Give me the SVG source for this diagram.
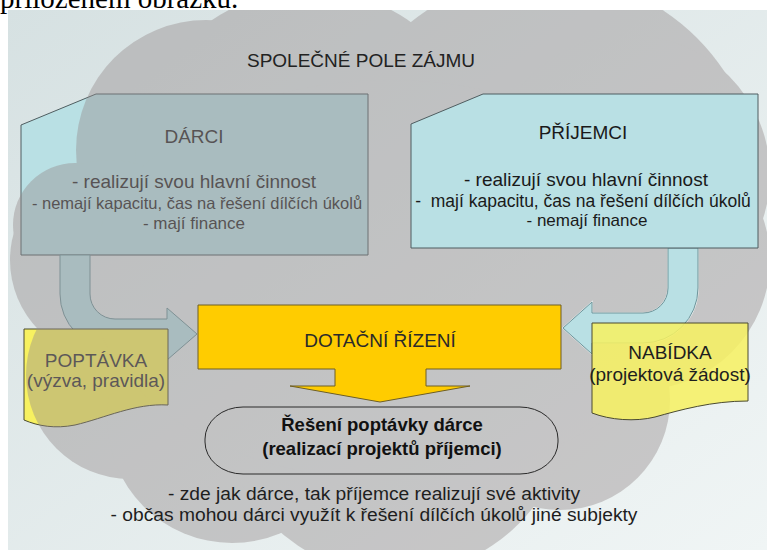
<svg xmlns="http://www.w3.org/2000/svg" width="767" height="550" viewBox="0 0 767 550">
<style>
.t{font-family:"Liberation Sans",Arial,sans-serif;text-anchor:middle}
.boxc{fill:#b9e0e4;stroke:#4f5d60;stroke-width:1}
.doc{fill:#f7f160;stroke:#4a4a30;stroke-width:1}
.arr{fill:#b9e0e4;stroke:#6f959b;stroke-width:1}
</style>
<defs>
<linearGradient id="bg" x1="0" y1="0" x2="1" y2="1">
<stop offset="0" stop-color="#d6e1e2"/>
<stop offset="1" stop-color="#f0f5f5"/>
</linearGradient>
<clipPath id="panel"><rect x="8" y="10" width="759" height="540"/></clipPath>
<mask id="cm" maskUnits="userSpaceOnUse" x="0" y="0" width="767" height="550">
<rect x="0" y="0" width="767" height="550" fill="#fff"/>
<path d="M668,248 H698 V288 A55,55 0 0 1 643,343 H592 V354 L563,328 L592,302 V313 H643 A25,25 0 0 0 668,288 Z" fill="#000" stroke="#000" stroke-width="1.5"/>
</mask>
</defs>
<rect x="0" y="0" width="767" height="550" fill="#fff"/>
<text x="0" y="7.5" font-family="'Liberation Serif','Times New Roman',serif" font-size="29" fill="#000">přiloženém obrázku.</text>
<rect x="8" y="10" width="759" height="540" fill="url(#bg)"/>

<g id="darci">
<polygon class="boxc" points="21,125 96,94 368,94 368,255 21,255"/>
<text class="t" x="194" y="143" font-size="19" fill="#2b2b2b">DÁRCI</text>
<text class="t" x="194" y="188" font-size="19" fill="#2b2b2b">- realizují svou hlavní činnost</text>
<text class="t" x="197" y="209" font-size="16.5" fill="#2b2b2b">- nemají kapacitu, čas na řešení dílčích úkolů</text>
<text class="t" x="194" y="229" font-size="17" fill="#2b2b2b">- mají finance</text>
</g>

<g id="connectors">
<path id="arrowL" class="arr" d="M60,255 H90 V294 A25,25 0 0 0 115,319 H167 V308 L197,334 L167,360 V349 H115 A55,55 0 0 1 60,294 Z"/>
<path id="arrowR" class="arr" d="M668,248 H698 V288 A55,55 0 0 1 643,343 H592 V354 L563,328 L592,302 V313 H643 A25,25 0 0 0 668,288 Z"/>
</g>

<g id="poptavka">
<path class="doc" d="M24,329 H168 V405 C135,403 105,418 75,425 C55,429 38,426 24,420 Z"/>
<text class="t" x="96" y="367" font-size="19" fill="#333">POPTÁVKA</text>
<text class="t" x="96" y="387" font-size="19" fill="#333">(výzva, pravidla)</text>
</g>

<g id="cloud" clip-path="url(#panel)">
<g opacity="0.42" fill="#958c8d" mask="url(#cm)">
<circle cx="206" cy="150" r="130"/>
<circle cx="310" cy="165" r="175"/>
<circle cx="545" cy="190" r="215"/>
<circle cx="630" cy="175" r="140"/>
<circle cx="640" cy="260" r="130"/>
<circle cx="560" cy="400" r="110"/>
<circle cx="75" cy="225" r="62"/>
<circle cx="110" cy="260" r="100"/>
<circle cx="130" cy="375" r="104"/>
<circle cx="232" cy="418" r="125"/>
<circle cx="395" cy="400" r="175"/>
<ellipse cx="390" cy="280" rx="300" ry="200"/>
</g>
</g>

<text class="t" x="361" y="67" font-size="19" fill="#222">SPOLEČNÉ POLE ZÁJMU</text>

<g id="prijemci">
<polygon class="boxc" points="411,124 483,94 758,94 758,248 411,248"/>
<text class="t" x="583" y="139" font-size="19" fill="#1a1a1a">PŘÍJEMCI</text>
<text class="t" x="586" y="186" font-size="19" fill="#1a1a1a">- realizují svou hlavní činnost</text>
<text class="t" x="583" y="207" font-size="17.5" fill="#1a1a1a" xml:space="preserve">-  mají kapacitu, čas na řešení dílčích úkolů</text>
<text class="t" x="587" y="226" font-size="17" fill="#1a1a1a">- nemají finance</text>
</g>

<g id="nabidka">
<path class="doc" fill-opacity="0.85" d="M592,323 H748 V401 C712,401 680,410 655,417 C635,422 610,420 592,413 Z"/>
<text class="t" x="670" y="359" font-size="19" fill="#1e1e1e">NABÍDKA</text>
<text class="t" x="670" y="381" font-size="19" fill="#1e1e1e">(projektová žádost)</text>
</g>

<g id="dotacni">
<path d="M198,305 H561 V369 H426 V386 H470 L380,402 L290,386 H335 V369 H198 Z" fill="#ffcc00" stroke="#6e5e24" stroke-width="1"/>
<text class="t" x="380" y="347" font-size="19" fill="#2a2a2a">DOTAČNÍ ŘÍZENÍ</text>
</g>

<g id="reseni">
<rect x="205" y="407" width="353" height="67" rx="38" ry="32" fill="none" stroke="#2a2a2a" stroke-width="1"/>
<text class="t" x="382" y="431" font-size="18.5" font-weight="bold" fill="#111">Řešení poptávky dárce</text>
<text class="t" x="382" y="455" font-size="18.5" font-weight="bold" fill="#111">(realizací projektů příjemci)</text>
</g>

<g id="note">
<text class="t" x="374" y="500" font-size="17.5" fill="#1e1e1e" textLength="412" lengthAdjust="spacingAndGlyphs">- zde jak dárce, tak příjemce realizují své aktivity</text>
<text class="t" x="374" y="521" font-size="17.5" fill="#1e1e1e" textLength="527" lengthAdjust="spacingAndGlyphs">- občas mohou dárci využít k řešení dílčích úkolů jiné subjekty</text>
</g>
</svg>
